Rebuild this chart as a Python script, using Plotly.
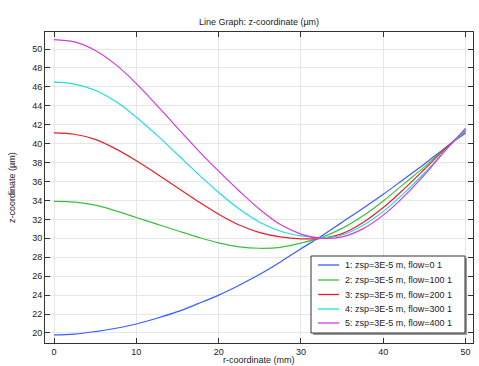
import plotly.graph_objects as go

# r-coordinate (mm)
r_mm = [0, 2.5, 5, 7.5, 10, 12.5, 15, 17.5, 20, 22.5, 25, 27.5, 30, 32.5, 35, 37.5, 40, 42.5, 45, 47.5, 50]

# z-coordinate (um) for each flow value
z_flow0 = [19.8, 19.88, 20.15, 20.5, 20.95, 21.55, 22.25, 23.1, 24.0, 25.05, 26.2, 27.5, 28.9, 30.25, 31.7, 33.15, 34.65, 36.25, 37.85, 39.55, 41.12]
z_flow100 = [33.9, 33.82, 33.5, 32.9, 32.2, 31.5, 30.8, 30.12, 29.52, 29.1, 28.95, 29.05, 29.5, 30.1, 31.05, 32.35, 33.95, 35.75, 37.55, 39.5, 41.3]
z_flow200 = [41.15, 41.0, 40.45, 39.45, 38.2, 36.8, 35.35, 33.9, 32.55, 31.4, 30.6, 30.15, 29.95, 30.0, 30.5, 31.65, 33.25, 35.2, 37.3, 39.45, 41.4]
z_flow300 = [46.5, 46.3, 45.65, 44.45, 42.8, 40.9, 38.85, 36.8, 34.85, 33.1, 31.7, 30.75, 30.25, 30.05, 30.35, 31.35, 32.85, 34.75, 36.9, 39.25, 41.5]
z_flow400 = [51.0, 50.75, 49.85, 48.35, 46.35, 44.05, 41.65, 39.3, 37.1, 35.0, 33.05, 31.45, 30.45, 30.0, 30.15, 31.0, 32.45, 34.4, 36.7, 39.25, 41.65]

series_names = [
    "1: zsp=3E-5 m, flow=0 1",
    "2: zsp=3E-5 m, flow=100 1",
    "3: zsp=3E-5 m, flow=200 1",
    "4: zsp=3E-5 m, flow=300 1",
    "5: zsp=3E-5 m, flow=400 1",
]
series_values = [z_flow0, z_flow100, z_flow200, z_flow300, z_flow400]
series_colors = ["#3a5cff", "#3cbf3c", "#e8202a", "#1fdede", "#d23cd6"]

x_ticks = [0, 10, 20, 30, 40, 50]
y_ticks = list(range(20, 52, 2))

FONT = "Liberation Sans, Arial, sans-serif"
TXT = "#222222"

fig = go.Figure()
for name, vals, col in zip(series_names, series_values, series_colors):
    fig.add_trace(go.Scatter(
        x=r_mm, y=vals, mode="lines", name=name,
        line=dict(color=col, width=1.2, shape="spline", smoothing=1.0),
        showlegend=False,
    ))

# Manual legend (COMSOL style box)
W, H = 479, 366
ml, mr, mt, mb = 45, 6, 32, 23
pw, ph = W - ml - mr, H - mt - mb

def px(xp):
    return (xp - ml) / pw

def py(yp):
    return (H - mb - yp) / ph

lx0, lx1, ly0, ly1 = 311, 465, 256, 333
shapes = [
    dict(type="rect", xref="paper", yref="paper", x0=px(lx0 + 2), x1=px(lx1 + 2), y0=py(ly1 + 2), y1=py(ly0 + 2),
         fillcolor="#9a9a9a", line=dict(width=0), layer="above"),
    dict(type="rect", xref="paper", yref="paper", x0=px(lx0), x1=px(lx1), y0=py(ly1), y1=py(ly0),
         fillcolor="white", line=dict(color="#333333", width=1), layer="above"),
]
annotations = []
row_y = [265, 280, 294.5, 309, 323]
for name, col, yy in zip(series_names, series_colors, row_y):
    shapes.append(dict(type="line", xref="paper", yref="paper", x0=px(318), x1=px(339), y0=py(yy), y1=py(yy),
                       line=dict(color=col, width=1.3), layer="above"))
    annotations.append(dict(xref="paper", yref="paper", x=px(343), y=py(yy), text=name, showarrow=False,
                            xanchor="left", yanchor="middle", font=dict(family=FONT, size=9, color=TXT)))

# axis titles as annotations for exact placement
annotations.append(dict(xref="paper", yref="paper", x=0.5, y=py(360), text="r-coordinate (mm)", showarrow=False,
                        xanchor="center", yanchor="middle", font=dict(family=FONT, size=9, color=TXT)))
annotations.append(dict(xref="paper", yref="paper", x=px(12), y=py(188), text="z-coordinate (µm)", showarrow=False,
                        textangle=-90, xanchor="center", yanchor="middle", font=dict(family=FONT, size=9, color=TXT)))

axis_common = dict(
    showline=True, linecolor="#333333", linewidth=1, mirror="ticks",
    ticks="inside", ticklen=5, tickcolor="#333333", tickwidth=1,
    showgrid=True, gridcolor="#e6e6e6", gridwidth=1, zeroline=False,
    tickfont=dict(family=FONT, size=9, color=TXT), automargin=False,
)

fig.update_layout(
    width=W, height=H,
    margin=dict(l=ml, r=mr, t=mt, b=mb, pad=0),
    paper_bgcolor="white", plot_bgcolor="white",
    title=dict(text="Line Graph: z-coordinate (µm)", x=0.5, xref="paper", y=1 - 22 / H, yref="container",
               yanchor="middle", xanchor="center", font=dict(family=FONT, size=9, color=TXT)),
    xaxis=dict(range=[-1.1, 50.9], tickvals=x_ticks, **axis_common),
    yaxis=dict(range=[18.94, 51.8], tickvals=y_ticks, **axis_common),
    shapes=shapes, annotations=annotations,
)

fig.write_html("out.html", config={"displayModeBar": False},
               post_script="document.body.style.margin='0';")
